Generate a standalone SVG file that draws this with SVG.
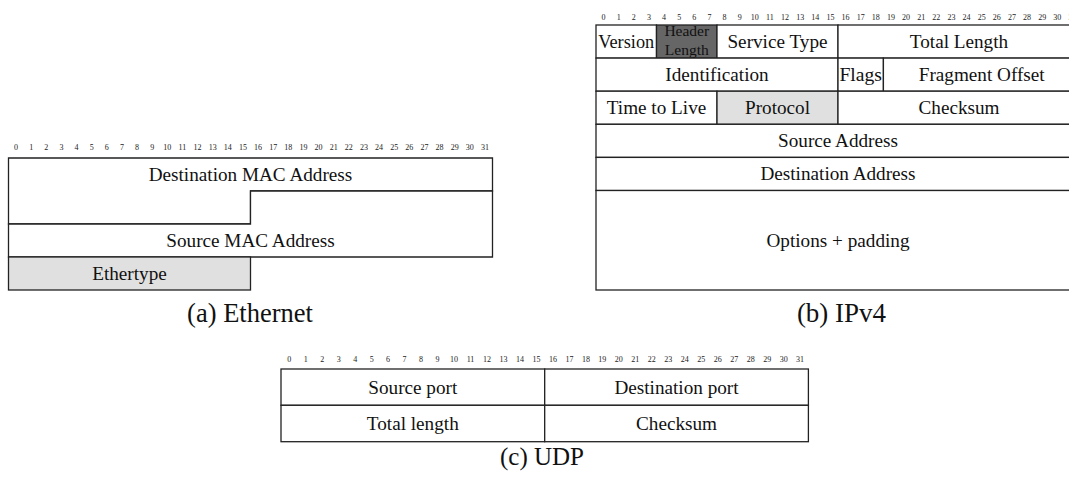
<svg xmlns="http://www.w3.org/2000/svg" xmlns:xlink="http://www.w3.org/1999/xlink" width="1069" height="479" viewBox="0 0 1069 479">
  <style>
    .cell { fill: #ffffff; stroke: #222222; stroke-width: 1.3; }
    .shade { fill: #e0e0e0; stroke: #222222; stroke-width: 1.3; }
    .dark { fill: #666666; stroke: #222222; stroke-width: 1.3; }
    .lbl { font-family: "Liberation Serif", "Times New Roman", serif; font-size: 19.2px; fill: #111111; text-anchor: middle; }
    .small { font-family: "Liberation Serif", "Times New Roman", serif; font-size: 15.5px; fill: #111111; text-anchor: middle; }
    .bit { font-family: "Liberation Serif", "Times New Roman", serif; font-size: 8px; fill: #222222; text-anchor: middle; }
    .cap { font-family: "Liberation Serif", "Times New Roman", serif; font-size: 25px; fill: #111111; text-anchor: middle; }
  </style>
  <defs>
    <!-- bit numbering for a 32-bit row, 15.125 px per bit -->
    <g id="bits32">
      <text class="bit" x="7.56">0</text>
      <text class="bit" x="22.69">1</text>
      <text class="bit" x="37.81">2</text>
      <text class="bit" x="52.94">3</text>
      <text class="bit" x="68.06">4</text>
      <text class="bit" x="83.19">5</text>
      <text class="bit" x="98.31">6</text>
      <text class="bit" x="113.44">7</text>
      <text class="bit" x="128.56">8</text>
      <text class="bit" x="143.69">9</text>
      <text class="bit" x="158.81">10</text>
      <text class="bit" x="173.94">11</text>
      <text class="bit" x="189.06">12</text>
      <text class="bit" x="204.19">13</text>
      <text class="bit" x="219.31">14</text>
      <text class="bit" x="234.44">15</text>
      <text class="bit" x="249.56">16</text>
      <text class="bit" x="264.69">17</text>
      <text class="bit" x="279.81">18</text>
      <text class="bit" x="294.94">19</text>
      <text class="bit" x="310.06">20</text>
      <text class="bit" x="325.19">21</text>
      <text class="bit" x="340.31">22</text>
      <text class="bit" x="355.44">23</text>
      <text class="bit" x="370.56">24</text>
      <text class="bit" x="385.69">25</text>
      <text class="bit" x="400.81">26</text>
      <text class="bit" x="415.94">27</text>
      <text class="bit" x="431.06">28</text>
      <text class="bit" x="446.19">29</text>
      <text class="bit" x="461.31">30</text>
      <text class="bit" x="476.44">31</text>
    </g>
    <clipPath id="hlClip">
      <rect x="656.5" y="25" width="60.5" height="33.1"/>
    </clipPath>
  </defs>

  <!-- (a) Ethernet frame header -->
  <g id="ethernet">
    <use xlink:href="#bits32" href="#bits32" transform="translate(8.5,149.5)"/>
    <g id="eth-dst-mac">
      <polygon class="cell" points="8.5,158 492.5,158 492.5,191 250.5,191 250.5,224 8.5,224"/>
      <text class="lbl" x="250.5" y="181">Destination MAC Address</text>
    </g>
    <g id="eth-src-mac">
      <polygon class="cell" points="250.5,191 492.5,191 492.5,257 8.5,257 8.5,224 250.5,224"/>
      <text class="lbl" x="250.5" y="247">Source MAC Address</text>
    </g>
    <g id="eth-ethertype">
      <rect class="shade" x="8.5" y="257" width="242" height="33"/>
      <text class="lbl" x="129.5" y="280">Ethertype</text>
    </g>
    <text class="cap" x="250" y="322" style="font-size:26.5px">(a) Ethernet</text>
  </g>

  <!-- (b) IPv4 header -->
  <g id="ipv4">
    <use xlink:href="#bits32" href="#bits32" transform="translate(596,20)"/>
    <g id="ip-version">
      <rect class="cell" x="596" y="25" width="60.5" height="33.1"/>
      <text class="lbl" x="626.25" y="47.8" style="font-size:18.3px">Version</text>
    </g>
    <g id="ip-header-length">
      <rect class="dark" x="656.5" y="25" width="60.5" height="33.1"/>
      <g clip-path="url(#hlClip)">
        <text class="small" x="686.75" y="36.3">Header</text>
        <text class="small" x="686.75" y="55">Length</text>
      </g>
    </g>
    <g id="ip-service-type">
      <rect class="cell" x="717" y="25" width="121" height="33.1"/>
      <text class="lbl" x="777.5" y="47.8">Service Type</text>
    </g>
    <g id="ip-total-length">
      <rect class="cell" x="838" y="25" width="242" height="33.1"/>
      <text class="lbl" x="959" y="47.8">Total Length</text>
    </g>
    <g id="ip-identification">
      <rect class="cell" x="596" y="58.1" width="242" height="33.1"/>
      <text class="lbl" x="717" y="80.9">Identification</text>
    </g>
    <g id="ip-flags">
      <rect class="cell" x="838" y="58.1" width="45.4" height="33.1"/>
      <text class="lbl" x="860.7" y="80.9" style="font-size:19.6px">Flags</text>
    </g>
    <g id="ip-fragment-offset">
      <rect class="cell" x="883.4" y="58.1" width="196.6" height="33.1"/>
      <text class="lbl" x="981.7" y="80.9">Fragment Offset</text>
    </g>
    <g id="ip-ttl">
      <rect class="cell" x="596" y="91.2" width="121" height="33.1"/>
      <text class="lbl" x="656.5" y="114">Time to Live</text>
    </g>
    <g id="ip-protocol">
      <rect class="shade" x="717" y="91.2" width="121" height="33.1"/>
      <text class="lbl" x="777.5" y="114">Protocol</text>
    </g>
    <g id="ip-checksum">
      <rect class="cell" x="838" y="91.2" width="242" height="33.1"/>
      <text class="lbl" x="959" y="114">Checksum</text>
    </g>
    <g id="ip-source-address">
      <rect class="cell" x="596" y="124.3" width="484" height="33.1"/>
      <text class="lbl" x="838" y="147.1">Source Address</text>
    </g>
    <g id="ip-destination-address">
      <rect class="cell" x="596" y="157.4" width="484" height="33.1"/>
      <text class="lbl" x="838" y="180.2">Destination Address</text>
    </g>
    <g id="ip-options">
      <rect class="cell" x="596" y="190.5" width="484" height="99.5"/>
      <text class="lbl" x="838" y="246.5">Options + padding</text>
    </g>
    <text class="cap" x="841.5" y="322" style="font-size:27px">(b) IPv4</text>
  </g>

  <!-- (c) UDP header, 16.48 px per bit -->
  <g id="udp">
    <g id="udp-bits">
      <text class="bit" x="289.24" y="362">0</text>
      <text class="bit" x="305.72" y="362">1</text>
      <text class="bit" x="322.2" y="362">2</text>
      <text class="bit" x="338.68" y="362">3</text>
      <text class="bit" x="355.16" y="362">4</text>
      <text class="bit" x="371.64" y="362">5</text>
      <text class="bit" x="388.12" y="362">6</text>
      <text class="bit" x="404.6" y="362">7</text>
      <text class="bit" x="421.08" y="362">8</text>
      <text class="bit" x="437.56" y="362">9</text>
      <text class="bit" x="454.04" y="362">10</text>
      <text class="bit" x="470.52" y="362">11</text>
      <text class="bit" x="487" y="362">12</text>
      <text class="bit" x="503.48" y="362">13</text>
      <text class="bit" x="519.96" y="362">14</text>
      <text class="bit" x="536.44" y="362">15</text>
      <text class="bit" x="552.92" y="362">16</text>
      <text class="bit" x="569.4" y="362">17</text>
      <text class="bit" x="585.88" y="362">18</text>
      <text class="bit" x="602.36" y="362">19</text>
      <text class="bit" x="618.84" y="362">20</text>
      <text class="bit" x="635.32" y="362">21</text>
      <text class="bit" x="651.8" y="362">22</text>
      <text class="bit" x="668.28" y="362">23</text>
      <text class="bit" x="684.76" y="362">24</text>
      <text class="bit" x="701.24" y="362">25</text>
      <text class="bit" x="717.72" y="362">26</text>
      <text class="bit" x="734.2" y="362">27</text>
      <text class="bit" x="750.68" y="362">28</text>
      <text class="bit" x="767.16" y="362">29</text>
      <text class="bit" x="783.64" y="362">30</text>
      <text class="bit" x="800.12" y="362">31</text>
    </g>
    <g id="udp-src-port">
      <rect class="cell" x="281" y="369" width="263.7" height="36.3"/>
      <text class="lbl" x="412.8" y="393.5">Source port</text>
    </g>
    <g id="udp-dst-port">
      <rect class="cell" x="544.7" y="369" width="263.7" height="36.3"/>
      <text class="lbl" x="676.5" y="393.5">Destination port</text>
    </g>
    <g id="udp-length">
      <rect class="cell" x="281" y="405.3" width="263.7" height="36.4"/>
      <text class="lbl" x="412.8" y="430">Total length</text>
    </g>
    <g id="udp-checksum">
      <rect class="cell" x="544.7" y="405.3" width="263.7" height="36.4"/>
      <text class="lbl" x="676.5" y="430">Checksum</text>
    </g>
    <text class="cap" x="542" y="464.5">(c) UDP</text>
  </g>
</svg>
